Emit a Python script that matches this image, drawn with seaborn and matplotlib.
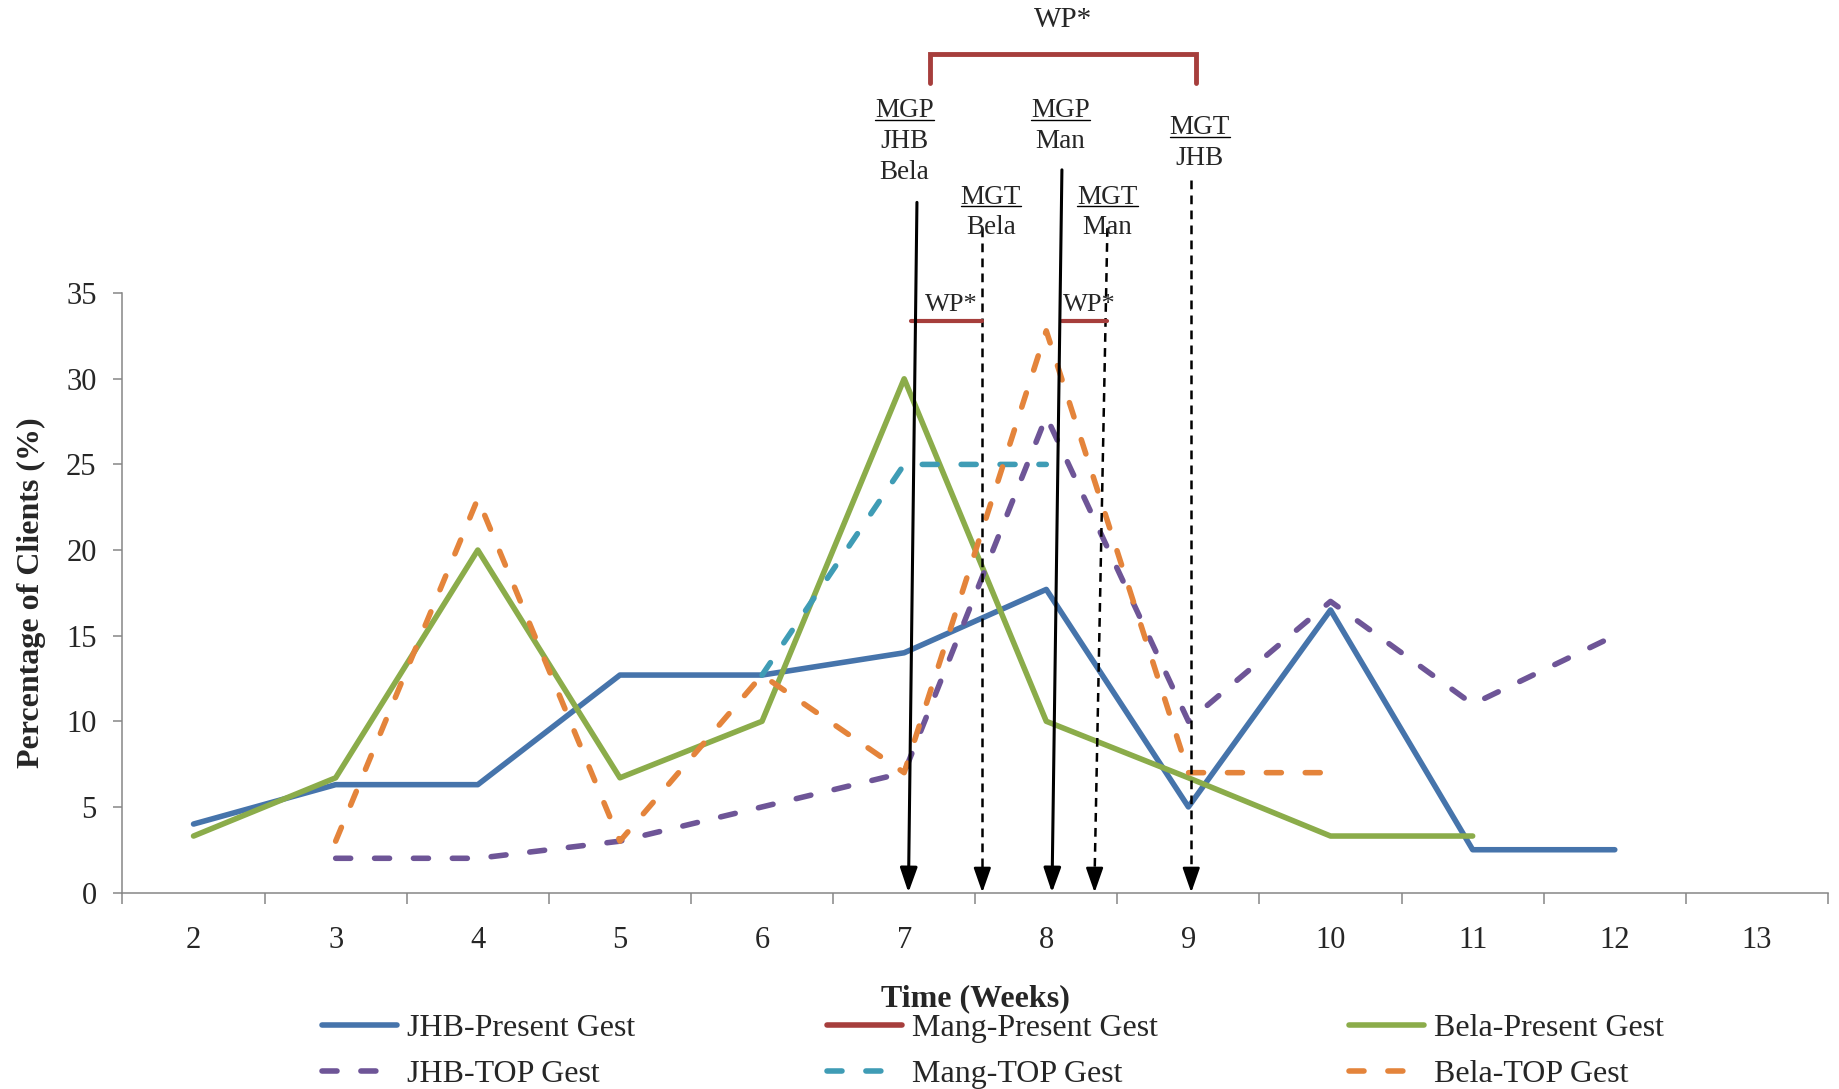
import numpy as np
import pandas as pd
import seaborn as sns
import matplotlib.pyplot as plt
from matplotlib.lines import Line2D

# data (weeks of gestation, % of clients)
nan = np.nan
weeks = [2, 3, 4, 5, 6, 7, 8, 9, 10, 11, 12, 13]
jhb_present = [4, 6.3, 6.3, 12.7, 12.7, 14, 17.7, 5, 16.5, 2.5, 2.5, nan]
mang_present = [nan] * 12
bela_present = [3.3, 6.7, 20, 6.7, 10, 30, 10, 6.7, 3.3, 3.3, nan, nan]
jhb_top = [nan, 2, 2, 3, 5, 7, 27.8, 10, 17, 11, 15, nan]
mang_top = [nan, nan, nan, nan, 12.7, 25, 25, nan, nan, nan, nan, nan]
bela_top = [nan, 3, 23, 3, 12.7, 7, 32.8, 7, 7, nan, nan, nan]

series_names = ["JHB-Present Gest", "Mang-Present Gest", "Bela-Present Gest",
                "JHB-TOP Gest", "Mang-TOP Gest", "Bela-TOP Gest"]
series_values = [jhb_present, mang_present, bela_present, jhb_top, mang_top, bela_top]
series_colors = ["#4674AB", "#A63E3C", "#8BAC4A", "#6E5597", "#3F9CB5", "#E4843B"]
dash = (0, (2.7, 4.3))
series_styles = ["-", "-", "-", dash, dash, dash]

# annotation positions (week, %) above the plot
solid_arrows = [((7.09, 40.3), (7.03, 0)), ((8.11, 42.2), (8.04, 0))]
dashed_arrows = [((7.55, 38.8), (7.55, 0)), ((8.43, 38.8), (8.34, 0)), ((9.02, 41.6), (9.02, 0))]
small_wp = [(7.05, 7.55), (8.11, 8.43)]
labels = [  # x, y, text, underlined
    (7.0, 45.65, "MGP", True), (7.0, 43.85, "JHB", False), (7.0, 42.05, "Bela", False),
    (7.61, 40.6, "MGT", True), (7.61, 38.82, "Bela", False),
    (8.10, 45.65, "MGP", True), (8.10, 43.85, "Man", False),
    (8.43, 40.6, "MGT", True), (8.43, 38.82, "Man", False),
    (9.08, 44.65, "MGT", True), (9.08, 42.85, "JHB", False),
]

sns.set_style("white")
plt.rcParams["font.family"] = ["Liberation Serif", "DejaVu Serif"]
FS_TICK = 22
FS_LAB = 23
FS_ANN = 19.5
GREY = "#868686"
RED = "#A63E3C"

fig = plt.figure(figsize=(18.39, 10.89), dpi=100)
ax = fig.add_axes([0.0666, 0.1804, 0.9274, 0.5504])

for name, vals, col, ls in zip(series_names, series_values, series_colors, series_styles):
    df = pd.DataFrame({"week": weeks, "pct": vals}).dropna()
    if df.empty:
        continue
    sns.lineplot(data=df, x="week", y="pct", ax=ax, color=col, linewidth=4.0,
                 linestyle=ls, dash_capstyle="round", solid_capstyle="round",
                 legend=False)

ax.set_xlim(1.5, 13.5)
ax.set_ylim(0, 35)
ax.set_xticks(weeks)
ax.set_xticklabels([str(w) for w in weeks])
ax.set_xticks(np.arange(1.5, 14.0, 1.0), minor=True)
ax.set_yticks(range(0, 36, 5))
ax.tick_params(axis="x", which="major", length=0, pad=24, labelsize=FS_TICK)
ax.tick_params(axis="x", which="minor", length=7.6, width=1.1, color=GREY, direction="out", bottom=True)
ax.tick_params(axis="y", length=6.7, width=1.1, color=GREY, direction="out", left=True, pad=12, labelsize=FS_TICK)
for s in ["top", "right"]:
    ax.spines[s].set_visible(False)
for s in ["left", "bottom"]:
    ax.spines[s].set_color(GREY)
    ax.spines[s].set_linewidth(1.1)

ax.set_xlabel("Time (Weeks)", fontsize=FS_LAB, fontweight="bold")
ax.set_ylabel("Percentage of Clients (%)", fontsize=FS_LAB, fontweight="bold")
ax.xaxis.set_label_coords(0.5, -0.153)
ax.yaxis.set_label_coords(-0.045, 0.5)

# arrows
for (x0, y0), (x1, y1) in solid_arrows:
    ax.annotate("", xy=(x1, y1), xytext=(x0, y0), annotation_clip=False,
                arrowprops=dict(arrowstyle="-|>,head_width=0.35,head_length=1.0",
                                color="black", lw=2.2, mutation_scale=15,
                                shrinkA=0, shrinkB=0))
for (x0, y0), (x1, y1) in dashed_arrows:
    ax.plot([x0, x1], [y0, y1 + 1.0], color="black", lw=1.8, linestyle=(0, (3.5, 2.5)),
            clip_on=False)
    ax.annotate("", xy=(x1, y1), xytext=(x1, y1 + 1.2), annotation_clip=False,
                arrowprops=dict(arrowstyle="-|>,head_width=0.35,head_length=1.0",
                                color="black", lw=1.8, mutation_scale=15,
                                shrinkA=0, shrinkB=0))

# WP* brackets
ax.plot([7.18, 7.18, 9.05, 9.05], [47.26, 48.97, 48.97, 47.26], color=RED, lw=3.5,
        clip_on=False, solid_joinstyle="miter")
ax.text(8.12, 50.96, "WP*", ha="center", va="center", fontsize=21)
for x0, x1 in small_wp:
    ax.plot([x0, x1], [33.36, 33.36], color=RED, lw=3.0, clip_on=False)
    ax.text((x0 + x1) / 2 + 0.03, 34.3, "WP*", ha="center", va="center", fontsize=19)

under = []
for x, y, t, u in labels:
    tx = ax.text(x, y, t, ha="center", va="center", fontsize=FS_ANN, clip_on=False)
    if u:
        under.append(tx)

# legend, filled column by column so rows read as in the original
handles = {n: Line2D([], [], color=c, lw=4.0, linestyle=s, dash_capstyle="round",
                     solid_capstyle="round")
           for n, c, s in zip(series_names, series_colors, series_styles)}
order = [0, 3, 1, 4, 2, 5]
fig.legend([handles[series_names[i]] for i in order], [series_names[i] for i in order],
           ncol=3, loc="center", bbox_to_anchor=(0.540, 0.0345), frameon=False,
           fontsize=FS_LAB, handlelength=2.35, handletextpad=0.3, columnspacing=6.0,
           labelspacing=0.5)

# underline the group headers
fig.canvas.draw()
r = fig.canvas.get_renderer()
for tx in under:
    bb = tx.get_window_extent(r)
    y = bb.y0 + 3.5
    fig.add_artist(Line2D([bb.x0 / fig.bbox.width, bb.x1 / fig.bbox.width],
                          [y / fig.bbox.height, y / fig.bbox.height],
                          transform=fig.transFigure, color="black", lw=1.0))

fig.savefig("out.png", dpi=100)
